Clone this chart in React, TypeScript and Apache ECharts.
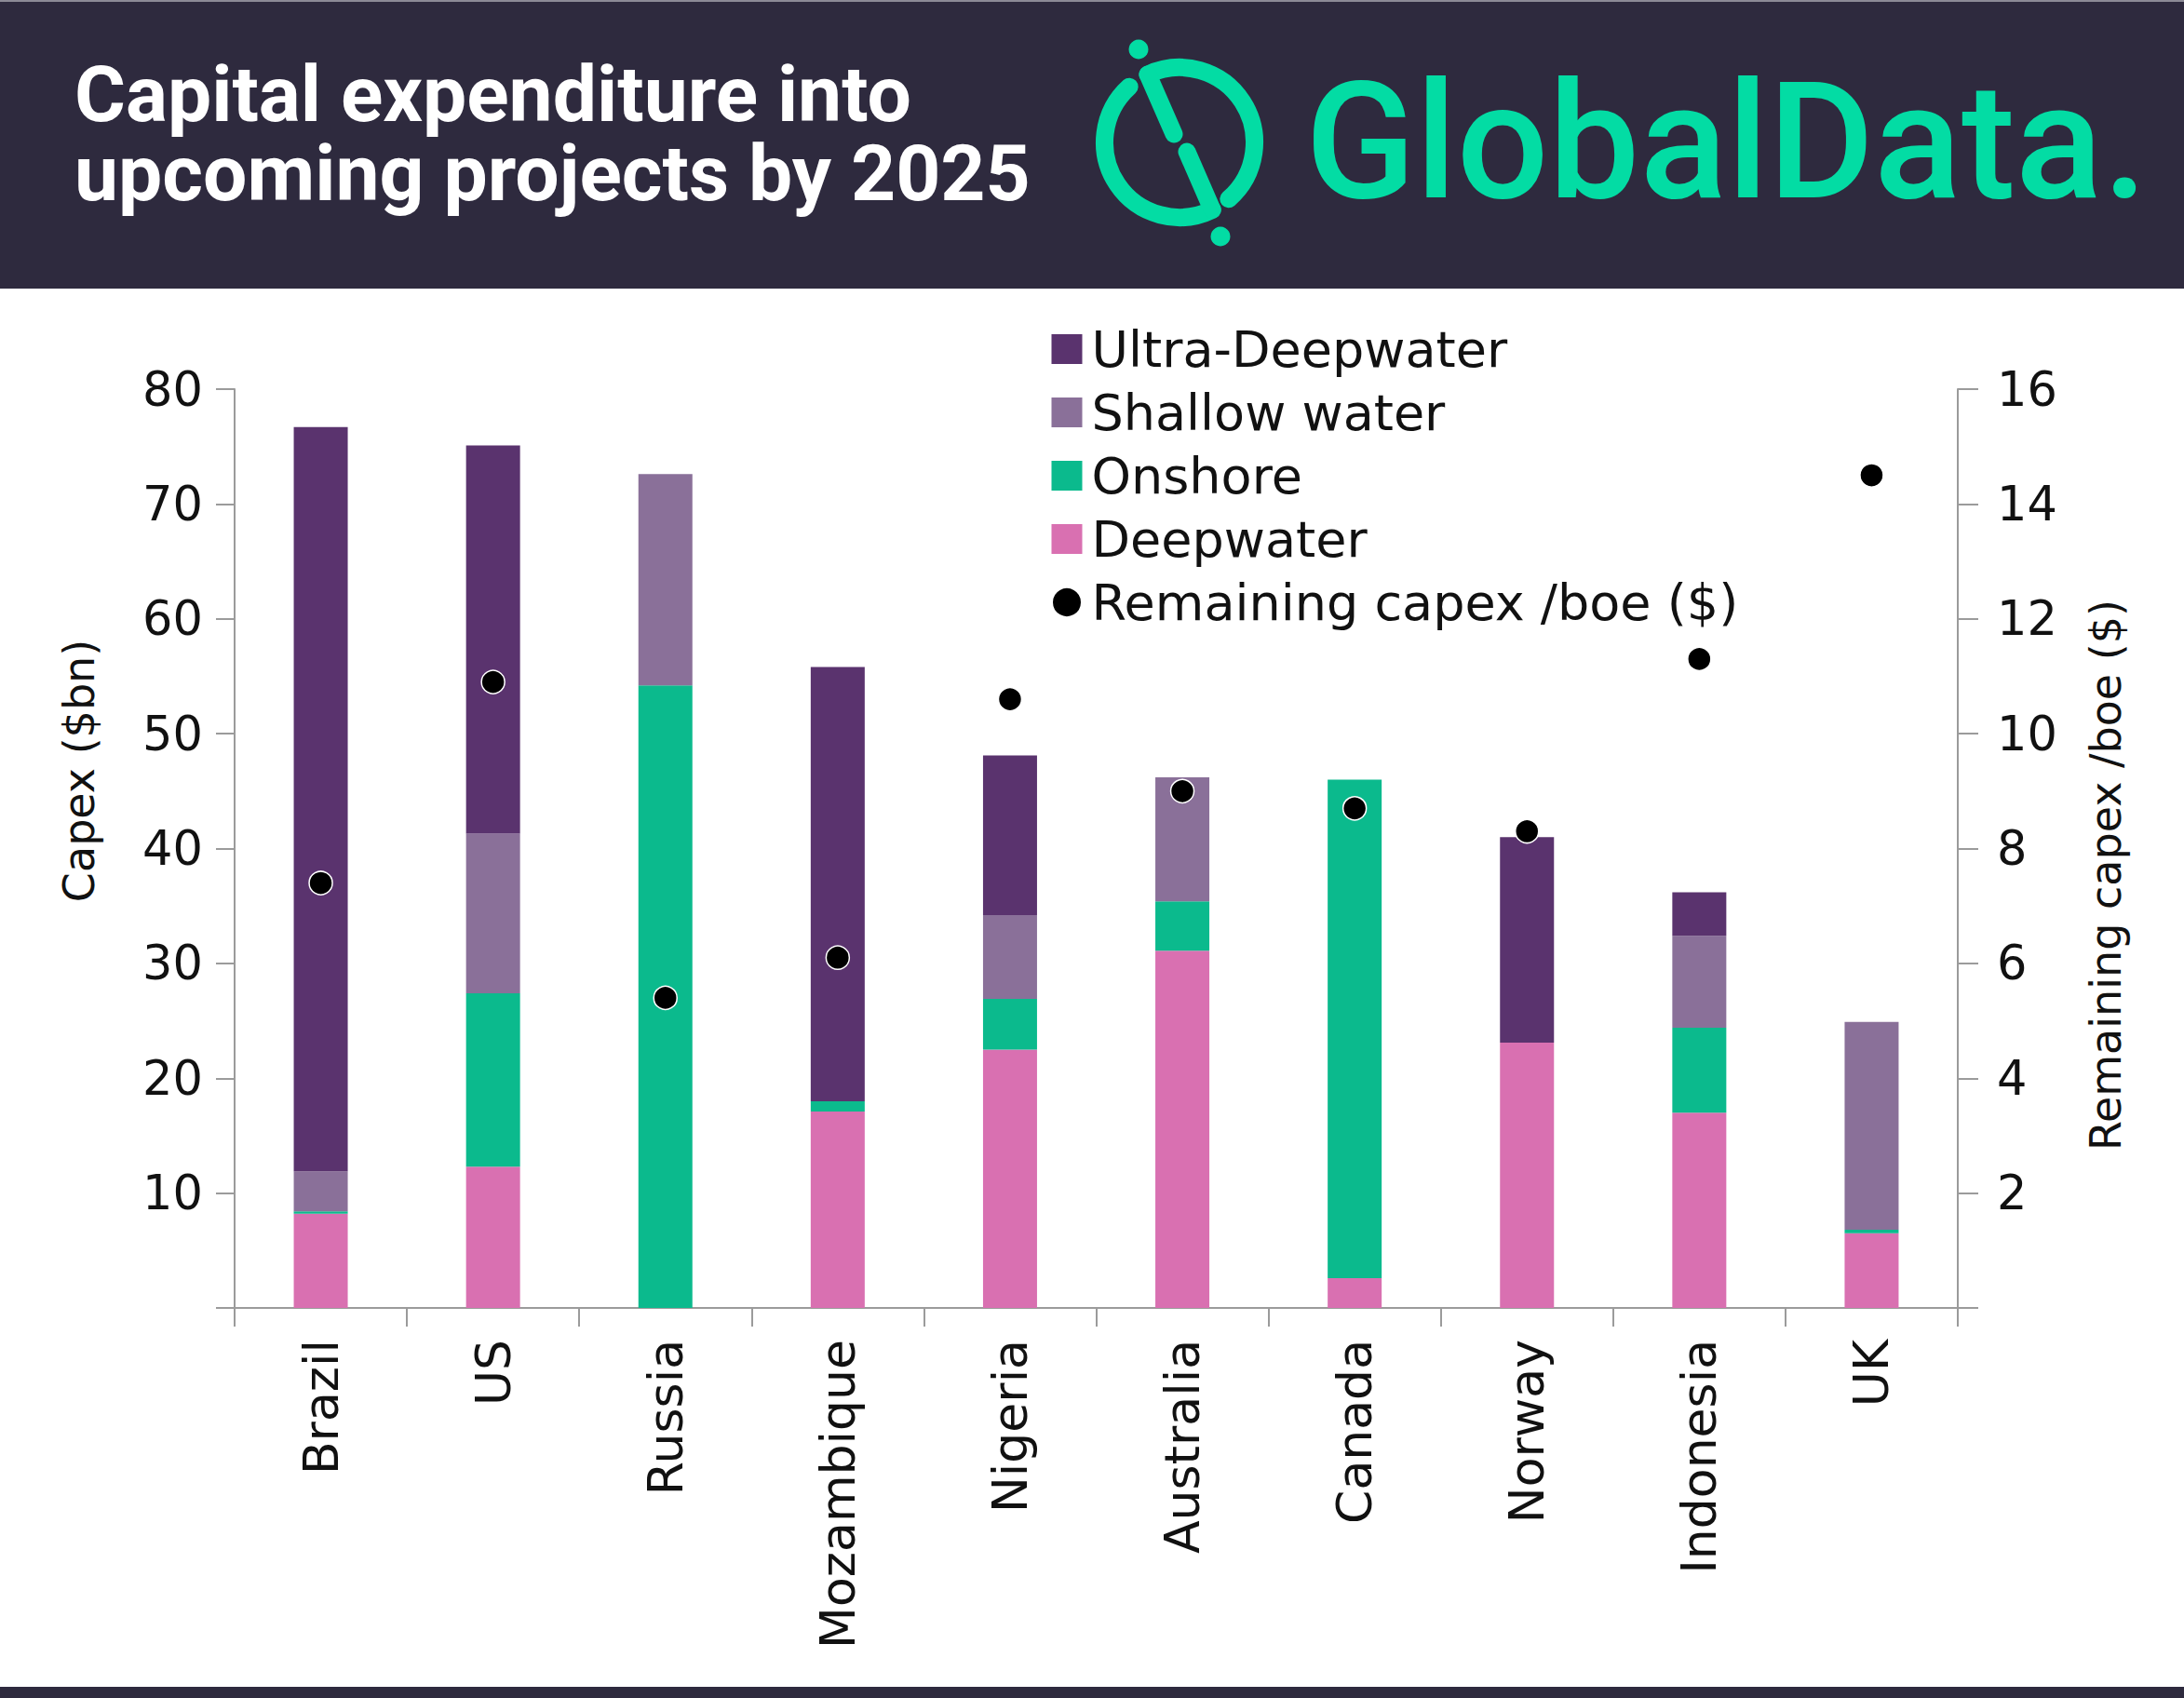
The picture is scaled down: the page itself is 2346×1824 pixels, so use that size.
import React, { useEffect, useRef } from 'react';
import * as echarts from 'echarts';

const categories = ['Brazil', 'US', 'Russia', 'Mozambique', 'Nigeria', 'Australia', 'Canada', 'Norway', 'Indonesia', 'UK'];
const deepwater = [8.2, 12.3, 0, 17.1, 22.5, 31.1, 2.6, 23.1, 17.0, 6.5];
const onshore = [0.2, 15.1, 54.2, 0.9, 4.4, 4.3, 43.4, 0, 7.4, 0.3];
const shallowWater = [3.5, 13.9, 18.4, 0, 7.3, 10.8, 0, 0, 8.0, 18.1];
const ultraDeepwater = [64.8, 33.8, 0, 37.8, 13.9, 0, 0, 17.9, 3.8, 0];
const remainingCapexPerBoe = [7.4, 10.9, 5.4, 6.1, 10.6, 9.0, 8.7, 8.3, 11.3, 14.5];

const leftTicks = { min: 0, max: 80, interval: 10 };
const rightTicks = { min: 0, max: 16, interval: 2 };

const COLORS = {
  ultra: '#5a336e',
  shallow: '#8a7099',
  onshore: '#0bba8d',
  deep: '#d970b1',
  dot: '#000000',
  header: '#2e2a3e',
  green: '#03dca4',
  axis: '#9b9b9b',
};

const FONT = '"DejaVu Sans", sans-serif';

function buildOption() {
  const deg = (d: number) => (d * Math.PI) / 180;
  const cx = 1267;
  const cy = 153;
  const r = 80.5;
  const lw = 19;
  const logoStroke = { stroke: COLORS.green, lineWidth: lw, lineCap: 'round', fill: 'none' };

  const graphic: any[] = [
    { type: 'rect', shape: { x: 0, y: 0, width: 2346, height: 310 }, style: { fill: COLORS.header }, silent: true },
    { type: 'rect', shape: { x: 0, y: 0, width: 2346, height: 2 }, style: { fill: '#8c8a96' }, silent: true },
    { type: 'rect', shape: { x: 0, y: 1812, width: 2346, height: 12 }, style: { fill: COLORS.header }, silent: true },
    {
      type: 'text',
      style: {
        text: 'Capital expenditure into\nupcoming projects by 2025',
        x: 80,
        y: 143.5,
        fill: '#ffffff',
        font: 'bold 84px Roboto, sans-serif',
        lineHeight: 85,
        textAlign: 'left',
        textVerticalAlign: 'middle',
      },
    },
    // logo ring halves
    { type: 'arc', shape: { cx, cy, r, startAngle: deg(64), endAngle: deg(228), clockwise: true }, style: logoStroke },
    { type: 'arc', shape: { cx, cy, r, startAngle: deg(245), endAngle: deg(409), clockwise: true }, style: logoStroke },
    { type: 'line', shape: { x1: 1233, y1: 80, x2: 1261, y2: 144 }, style: logoStroke },
    { type: 'line', shape: { x1: 1275, y1: 163, x2: 1302, y2: 225 }, style: logoStroke },
    { type: 'circle', shape: { cx: 1223, cy: 53, r: 10.5 }, style: { fill: COLORS.green } },
    { type: 'circle', shape: { cx: 1311, cy: 254, r: 10.5 }, style: { fill: COLORS.green } },
    {
      type: 'text',
      style: { text: 'GlobalData.', x: 1402, y: 152, fill: COLORS.green, font: '500 174px Roboto, sans-serif', textAlign: 'left', textVerticalAlign: 'middle' },
    },
    // axis names
    {
      type: 'text',
      x: 85,
      y: 828,
      rotation: Math.PI / 2,
      style: { text: 'Capex ($bn)', x: 0, y: 0, fill: '#111', font: `46px ${FONT}`, textAlign: 'center', textVerticalAlign: 'middle' },
    },
    {
      type: 'text',
      x: 2262,
      y: 940,
      rotation: Math.PI / 2,
      style: { text: 'Remaining capex /boe ($)', x: 0, y: 0, fill: '#111', font: `46px ${FONT}`, textAlign: 'center', textVerticalAlign: 'middle' },
    },
  ];

  const barBase = {
    type: 'bar',
    stack: 'capex',
    barWidth: 58,
    yAxisIndex: 0,
  };

  return {
    animation: false,
    backgroundColor: '#ffffff',
    textStyle: { fontFamily: FONT },
    grid: { left: 252, right: 243, top: 418, bottom: 419, containLabel: false },
    legend: {
      orient: 'vertical',
      left: 1124,
      top: 343,
      itemWidth: 33,
      itemHeight: 32,
      itemGap: 14,
      selectedMode: false,
      textStyle: { fontFamily: FONT, fontSize: 54, color: '#111', lineHeight: 50, padding: [0, 0, 0, 5] },
      data: [
        { name: 'Ultra-Deepwater', icon: 'rect' },
        { name: 'Shallow water', icon: 'rect' },
        { name: 'Onshore', icon: 'rect' },
        { name: 'Deepwater', icon: 'rect' },
        { name: 'Remaining capex /boe ($)', icon: 'circle' },
      ],
    },
    xAxis: {
      type: 'category',
      data: categories,
      boundaryGap: true,
      axisLine: { show: true, lineStyle: { color: COLORS.axis, width: 2 } },
      axisTick: { show: true, length: 20, alignWithLabel: false, lineStyle: { color: COLORS.axis, width: 2 } },
      axisLabel: { rotate: 90, margin: 34, fontSize: 52, fontFamily: FONT, color: '#111', interval: 0 },
    },
    yAxis: [
      {
        type: 'value',
        min: leftTicks.min,
        max: leftTicks.max,
        interval: leftTicks.interval,
        position: 'left',
        splitLine: { show: false },
        axisLine: { show: true, lineStyle: { color: COLORS.axis, width: 2 } },
        axisTick: { show: true, length: 20, lineStyle: { color: COLORS.axis, width: 2 } },
        axisLabel: { margin: 34, fontSize: 51, fontFamily: FONT, color: '#111', formatter: (v: number) => (v === 0 ? '' : String(v)) },
      },
      {
        type: 'value',
        min: rightTicks.min,
        max: rightTicks.max,
        interval: rightTicks.interval,
        position: 'right',
        splitLine: { show: false },
        axisLine: { show: true, lineStyle: { color: COLORS.axis, width: 2 } },
        axisTick: { show: true, length: 22, lineStyle: { color: COLORS.axis, width: 2 } },
        axisLabel: { margin: 42, fontSize: 51, fontFamily: FONT, color: '#111', formatter: (v: number) => (v === 0 ? '' : String(v)) },
      },
    ],
    series: [
      { ...barBase, name: 'Deepwater', data: deepwater, itemStyle: { color: COLORS.deep } },
      { ...barBase, name: 'Onshore', data: onshore, itemStyle: { color: COLORS.onshore } },
      { ...barBase, name: 'Shallow water', data: shallowWater, itemStyle: { color: COLORS.shallow } },
      { ...barBase, name: 'Ultra-Deepwater', data: ultraDeepwater, itemStyle: { color: COLORS.ultra } },
      {
        type: 'scatter',
        name: 'Remaining capex /boe ($)',
        yAxisIndex: 1,
        data: remainingCapexPerBoe,
        symbol: 'circle',
        symbolSize: 25,
        z: 5,
        itemStyle: { color: COLORS.dot, borderColor: '#ffffff', borderWidth: 1.5, opacity: 1 },
      },
    ],
    graphic,
  };
}

export default function App() {
  const ref = useRef<HTMLDivElement>(null);
  useEffect(() => {
    document.body.style.margin = '0';
    const chart = echarts.init(ref.current as HTMLDivElement, null, { renderer: 'svg' });
    chart.setOption(buildOption() as any);
    return () => {
      chart.dispose();
    };
  }, []);
  return (
    <div
      ref={ref}
      style={{ position: 'absolute', left: 0, top: 0, width: 2346, height: 1824, background: '#ffffff' }}
    />
  );
}
